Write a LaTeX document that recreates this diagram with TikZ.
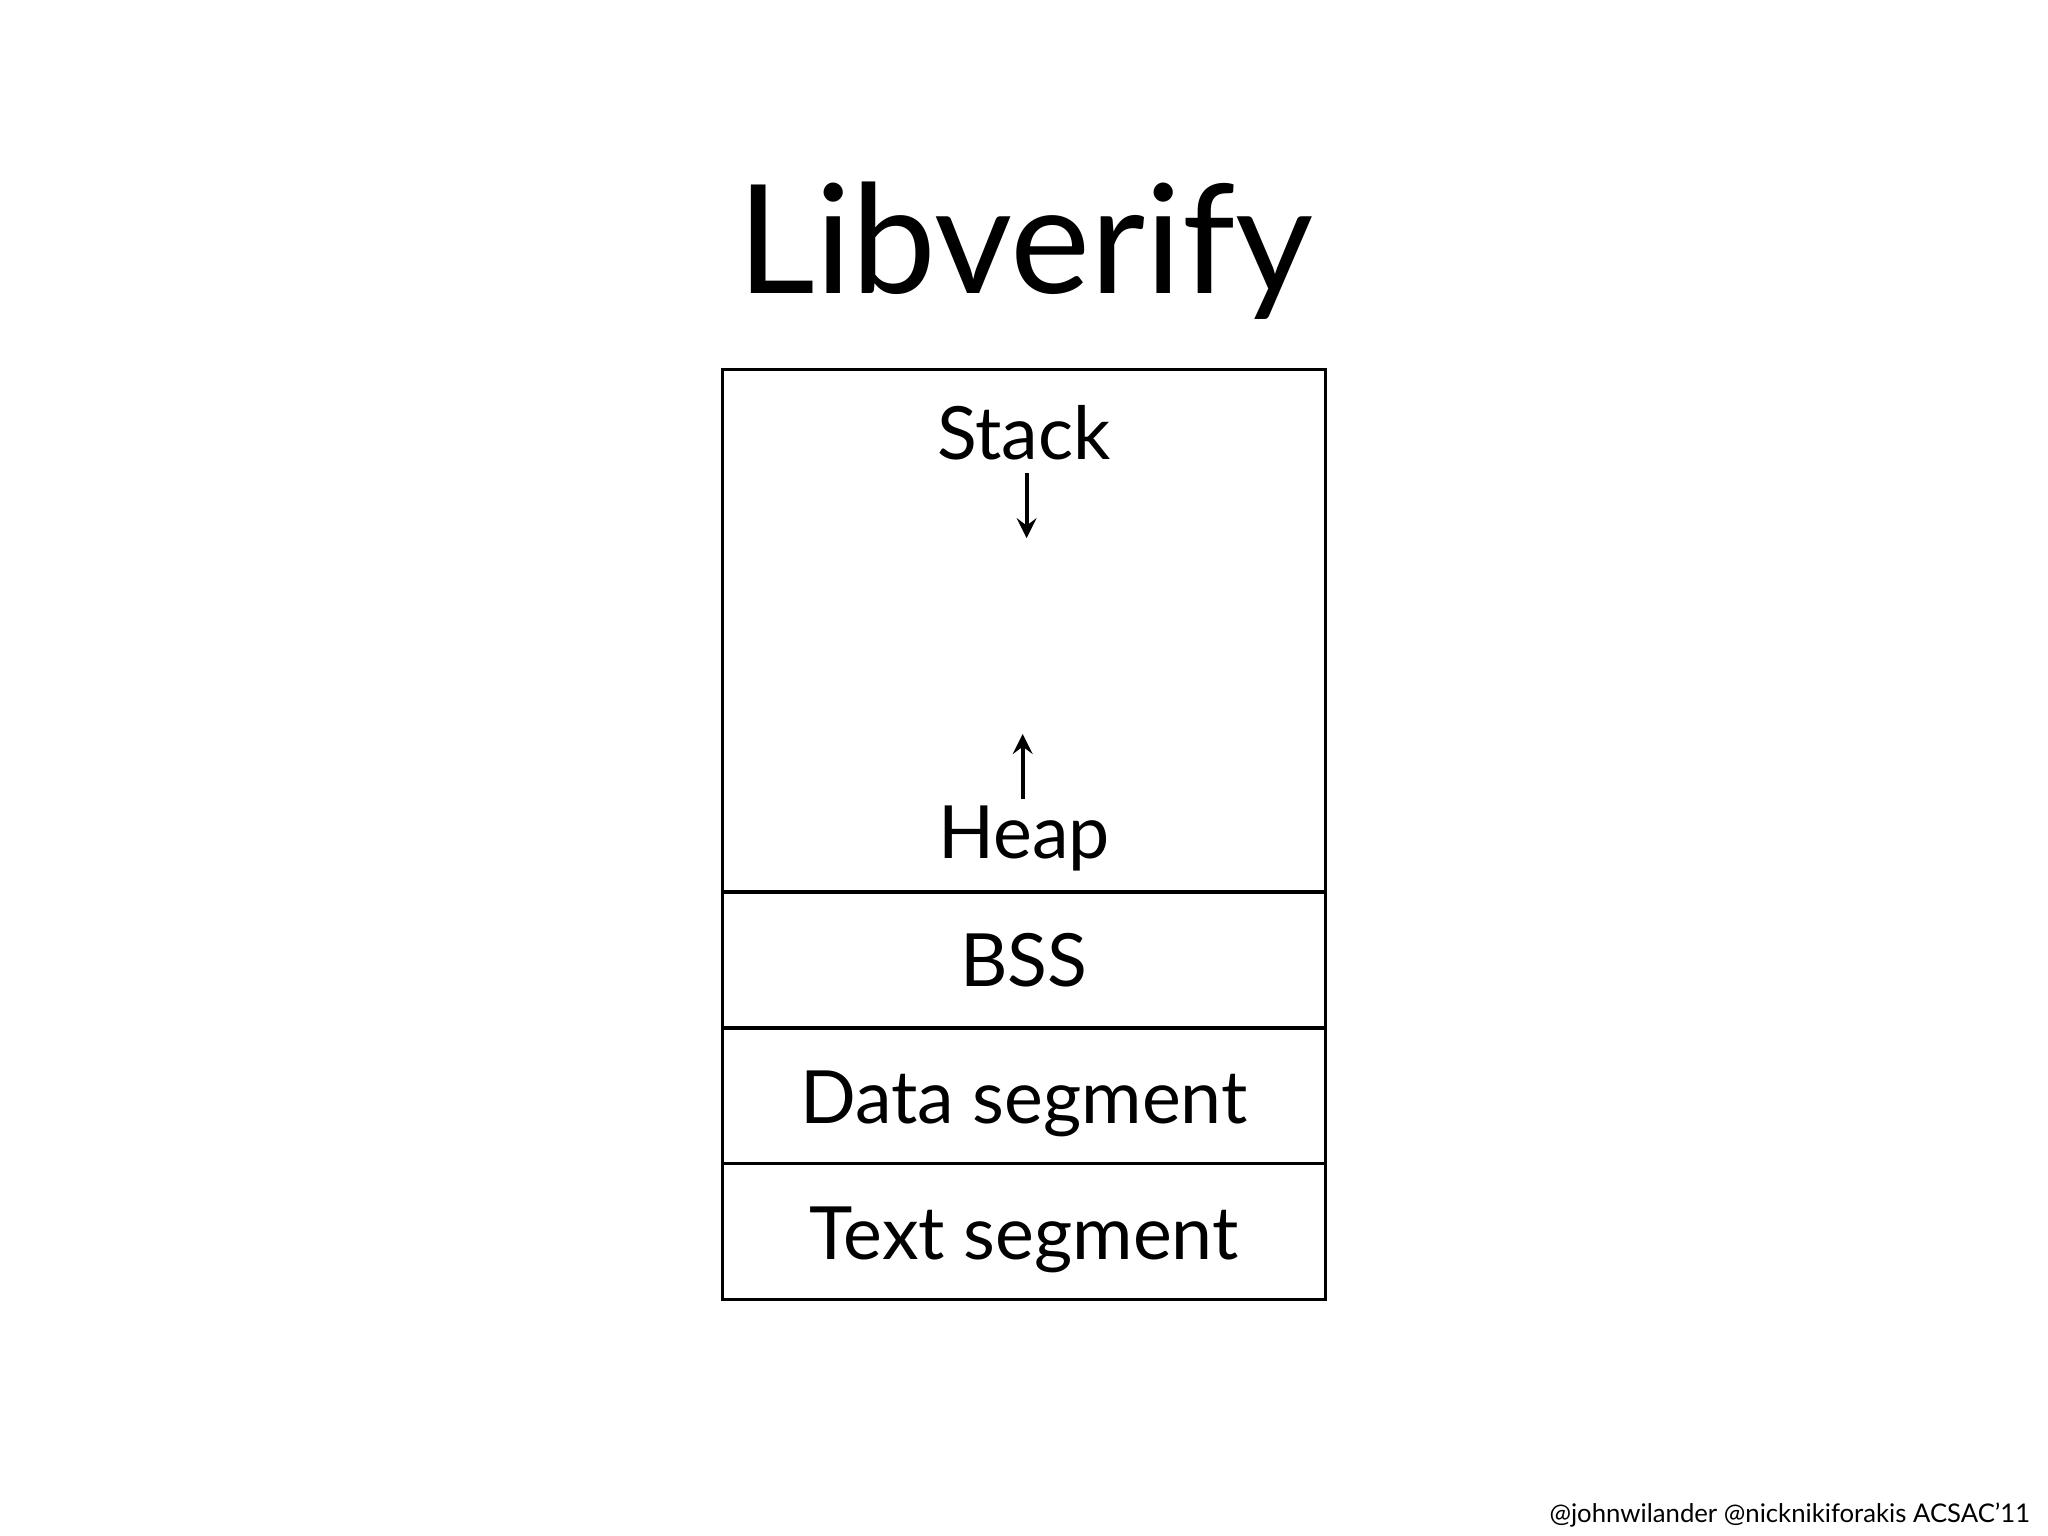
\documentclass[tikz,border=0pt]{standalone}
\usepackage{fontspec}
\setmainfont{Lato}
\begin{document}
\begin{tikzpicture}[x=1cm,y=-1cm,
  seg/.style={draw,line width=0.75pt},
  lbl/.style={font=\fontsize{16pt}{18pt}\selectfont,inner sep=0pt,anchor=base},
  arr/.style={-stealth,line width=0.9pt}]
\useasboundingbox (0,0) rectangle (15.68,11.76);
\node[anchor=base,inner sep=0pt,font=\fontsize{33pt}{38pt}\selectfont] (title) at (7.85,2.25) {Libverify};
\draw[seg] (5.53,2.83) rectangle (10.15,9.95);
\coordinate (l1) at (5.53,6.83); \coordinate (r1) at (10.15,6.83);
\coordinate (l2) at (5.53,7.87); \coordinate (r2) at (10.15,7.87);
\coordinate (l3) at (5.53,8.91); \coordinate (r3) at (10.15,8.91);
\draw[seg] (l1)--(r1); \draw[seg] (l2)--(r2); \draw[seg] (l3)--(r3);
\node[lbl] (stack) at (7.84,3.52) {Stack};
\node[lbl] (heap) at (7.84,6.57) {Heap};
\node[lbl] (bss) at (7.84,7.55) {BSS};
\node[lbl] (data) at (7.84,8.60) {Data segment};
\node[lbl] (text) at (7.84,9.64) {Text segment};
\coordinate (sa) at (7.86,3.62); \coordinate (sb) at (7.86,4.12);
\coordinate (ha) at (7.83,6.12); \coordinate (hb) at (7.83,5.62);
\draw[arr] (sa)--(sb);
\draw[arr] (ha)--(hb);
\node[anchor=base east,inner sep=0pt,font=\fontsize{5.6pt}{7pt}\selectfont] (foot) at (15.55,11.66) {@johnwilander @nicknikiforakis ACSAC'11};
\end{tikzpicture}
\end{document}
